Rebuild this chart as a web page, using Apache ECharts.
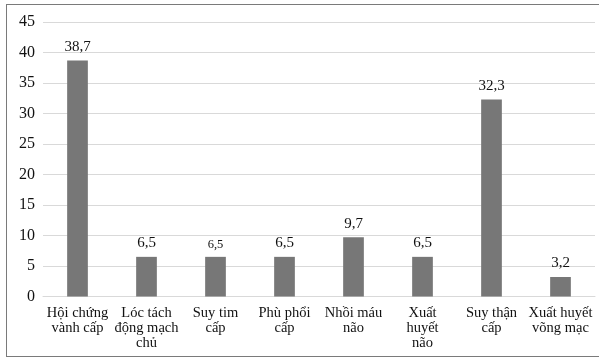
<!DOCTYPE html>
<html><head><meta charset="utf-8">
<script src="https://cdn.jsdelivr.net/npm/echarts@6/dist/echarts.min.js"></script>
<style>html,body{margin:0;padding:0;background:#fff}#wrap{position:absolute;left:6px;top:4px;width:593px;height:353px;border:1.5px solid #7a7a7a;border-right:none;box-sizing:border-box}#c{position:absolute;left:0;top:0;width:601px;height:360px}</style>
</head><body><div id="wrap"></div><div id="c"></div>
<script>
const categories = ["Hội chứng\nvành cấp", "Lóc tách\nđộng mạch\nchủ", "Suy tim\ncấp", "Phù phổi\ncấp", "Nhồi máu\nnão", "Xuất\nhuyết\nnão", "Suy thận\ncấp", "Xuất huyết\nvõng mạc"];
const values = [38.7, 6.5, 6.5, 6.5, 9.7, 6.5, 32.3, 3.2];
const yTicks = [0, 5, 10, 15, 20, 25, 30, 35, 40, 45];
const font = "'Liberation Serif', 'DejaVu Serif', serif";
const chart = echarts.init(document.getElementById('c'), null, {renderer: 'canvas'});
chart.setOption({
  animation: false,
  grid: {left: 43, right: 6, top: 22, bottom: 63.5, containLabel: false},
  xAxis: {
    type: 'category', data: categories,
    axisLine: {lineStyle: {color: '#d9d9d9', width: 1}},
    axisTick: {show: false},
    axisLabel: {color: '#111', fontFamily: font, fontSize: 14.5, lineHeight: 15, margin: 9, interval: 0}
  },
  yAxis: {
    type: 'value', min: yTicks[0], max: yTicks[yTicks.length - 1], interval: 5,
    axisLine: {show: false}, axisTick: {show: false},
    splitLine: {lineStyle: {color: '#d9d9d9', width: 1}},
    axisLabel: {color: '#111', fontFamily: font, fontSize: 16, margin: 8}
  },
  series: [{
    type: 'bar',
    data: values.map((v, i) => i === 2 ? {value: v, label: {fontSize: 12.5}} : v),
    barWidth: '30%',
    itemStyle: {color: '#777777'},
    label: {
      show: true, position: 'top', distance: 6,
      color: '#111', fontFamily: font, fontSize: 15,
      formatter: p => String(p.value).replace('.', ',')
    }
  }]
});
</script>
</body></html>
